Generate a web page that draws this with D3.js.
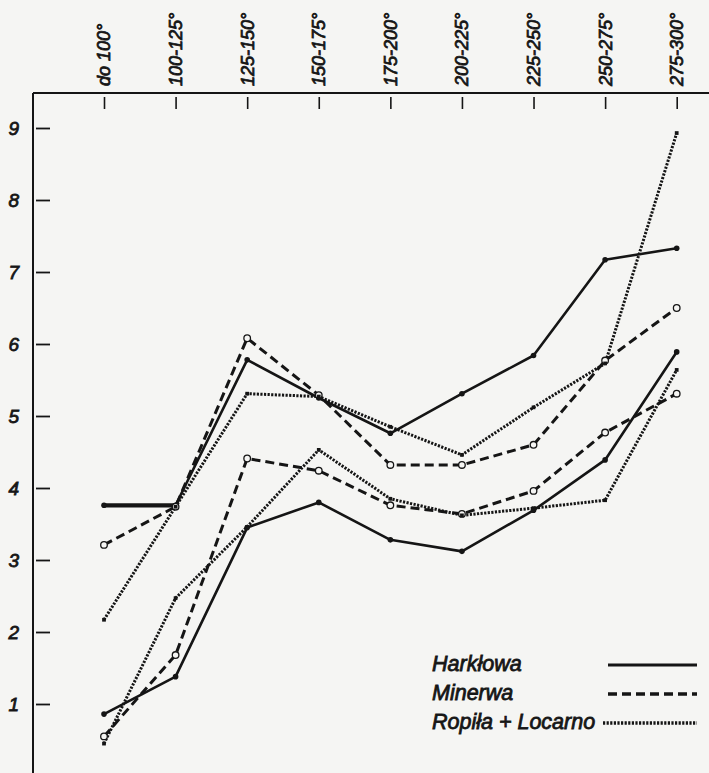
<!DOCTYPE html>
<html>
<head>
<meta charset="utf-8">
<script src="https://cdn.jsdelivr.net/npm/d3@7/dist/d3.min.js"></script>
<style>
  html, body { margin: 0; padding: 0; background: #f5f5f3; }
  svg { display: block; }
  .num { font-family: "Liberation Sans", Arial, sans-serif; font-style: italic; font-weight: normal;
         fill: #161616; stroke: #161616; stroke-width: 0.8px; }
</style>
</head>
<body>
<svg id="chart" width="709" height="773"></svg>
<script>
// Temperature fractions (°C) along the top axis
const fractions = ["do 100°", "100-125°", "125-150°", "150-175°", "175-200°",
                   "200-225°", "225-250°", "250-275°", "275-300°"];
const yTicks = [1, 2, 3, 4, 5, 6, 7, 8, 9];

// Two curves per crude oil
const harklowaA = [3.76, 3.76, 5.78, 5.25, 4.76, 5.31, 5.84, 7.17, 7.33];
const harklowaB = [0.86, 1.38, 3.45, 3.80, 3.28, 3.12, 3.69, 4.39, 5.89];
const minerwaA  = [3.21, 3.74, 6.08, 5.29, 4.32, 4.32, 4.60, 5.77, 6.50];
const minerwaB  = [0.55, 1.68, 4.41, 4.24, 3.76, 3.64, 3.96, 4.77, 5.31];
const ropilaA   = [2.17, 3.74, 5.31, 5.27, 4.85, 4.46, 5.12, 5.73, 8.93];
const ropilaB   = [0.45, 2.47, 3.46, 4.53, 3.85, 3.62, 3.72, 3.83, 5.64];

const legendNames = ["Harkłowa", "Minerwa", "Ropiła + Locarno"];

const ink = "#151515";
const styles = [
  { width: 2.6, dash: null, cap: "butt", marker: "dot" },
  { width: 3.0, dash: "9 5", cap: "butt", marker: "ring" },
  { width: 3.0, dash: "2.2 1.4", cap: "butt", marker: "square" }
];

const series = [
  { values: harklowaA, style: 0 }, { values: harklowaB, style: 0 },
  { values: minerwaA, style: 1 },  { values: minerwaB, style: 1 },
  { values: ropilaA, style: 2 },   { values: ropilaB, style: 2 }
];

const svg = d3.select("#chart");
const axisX = 33, axisTop = 93;

const x = d3.scalePoint().domain(fractions).range([104, 676.7]);
const y = d3.scaleLinear().domain([0, 9]).range([776, 128]);

// frame: top and left axis lines
svg.append("line").attr("x1", axisX).attr("x2", 709).attr("y1", axisTop).attr("y2", axisTop)
  .attr("stroke", ink).attr("stroke-width", 2);
svg.append("line").attr("x1", axisX).attr("x2", axisX).attr("y1", axisTop).attr("y2", 773)
  .attr("stroke", ink).attr("stroke-width", 2);

// left value axis
const yAxis = svg.append("g").attr("transform", `translate(${axisX},0)`)
  .call(d3.axisLeft(y).tickValues(yTicks).tickSize(-17).tickPadding(14).tickFormat(d3.format("d")));
yAxis.select(".domain").remove();
yAxis.selectAll(".tick line").attr("x1", 3).attr("stroke", ink).attr("stroke-width", 1.8);
yAxis.selectAll(".tick text").attr("class", "num").attr("font-size", 19).attr("dy", "0.36em");
yAxis.attr("font-family", null).attr("font-size", null);

// top category axis with rotated labels
const xAxis = svg.append("g").attr("transform", `translate(0,${axisTop})`)
  .call(d3.axisTop(x).tickSize(-16).tickFormat(""));
xAxis.select(".domain").remove();
xAxis.selectAll(".tick line").attr("y1", 4).attr("stroke", ink).attr("stroke-width", 1.6);
svg.append("g").selectAll("text").data(fractions).join("text")
  .attr("class", "num")
  .attr("font-size", 18)
  .attr("transform", d => `translate(${x(d)},86) rotate(-90)`)
  .attr("dy", "0.36em")
  .text(d => d);

// curves
const line = d3.line().x((d, i) => x(fractions[i])).y(d => y(d));
const plot = svg.append("g");

series.forEach(s => {
  const st = styles[s.style];
  plot.append("path")
    .attr("d", line(s.values))
    .attr("fill", "none")
    .attr("stroke", ink)
    .attr("stroke-width", st.width)
    .attr("stroke-linecap", st.cap)
    .attr("stroke-linejoin", "round")
    .attr("stroke-dasharray", st.dash);
});

// heavier opening segment of the upper Harkłowa curve
plot.append("path")
  .attr("d", line(harklowaA.slice(0, 2)))
  .attr("fill", "none").attr("stroke", ink).attr("stroke-width", 4.2);

// point markers
series.forEach(s => {
  const st = styles[s.style];
  const g = plot.append("g");
  s.values.forEach((v, i) => {
    const px = x(fractions[i]), py = y(v);
    if (st.marker === "dot") {
      g.append("circle").attr("cx", px).attr("cy", py).attr("r", 2.8).attr("fill", ink);
    } else if (st.marker === "ring") {
      g.append("circle").attr("cx", px).attr("cy", py).attr("r", 3.3)
        .attr("fill", "#f5f5f3").attr("stroke", ink).attr("stroke-width", 1.3);
    } else {
      g.append("path").attr("transform", `translate(${px},${py})`)
        .attr("d", d3.symbol(d3.symbolSquare, 14)()).attr("fill", ink);
    }
  });
});

// legend
const legend = svg.append("g");
const legendY = [671, 700, 729];
legendNames.forEach((name, i) => {
  const st = styles[i];
  legend.append("text").attr("class", "num")
    .attr("x", 432).attr("y", legendY[i])
    .attr("font-size", 21.5)
    .text(name);
  legend.append("line")
    .attr("x1", i === 2 ? 603 : 608).attr("x2", 697)
    .attr("y1", legendY[i] - 6).attr("y2", legendY[i] - 6)
    .attr("stroke", ink)
    .attr("stroke-width", st.width + 0.4)
    .attr("stroke-linecap", st.cap)
    .attr("stroke-dasharray", st.dash);
});
</script>
</body>
</html>
